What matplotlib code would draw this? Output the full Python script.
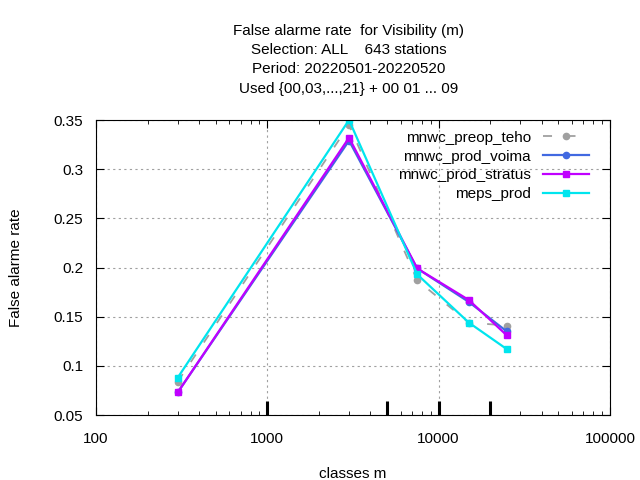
import numpy as np
import matplotlib
matplotlib.use("Agg")
import matplotlib.pyplot as plt
import matplotlib.transforms as mtransforms

plt.rcParams['font.family'] = ['Liberation Sans', 'DejaVu Sans']

# class centres (m) and false alarm rates
classes = [300, 3000, 7500, 15000, 25000]
preop_teho = [0.084, 0.345, 0.187, 0.144, 0.141]
prod_voima = [0.073, 0.329, 0.199, 0.165, 0.135]
prod_stratus = [0.073, 0.332, 0.199, 0.167, 0.131]
meps_prod = [0.088, 0.350, 0.193, 0.144, 0.117]

class_limits = [1000, 5000, 10000, 20000]

title = ("False alarme rate  for Visibility (m)\n"
         "Selection: ALL    643 stations\n"
         "Period: 20220501-20220520\n"
         "Used {00,03,...,21} + 00 01 ... 09")

FS = 11

fig = plt.figure(figsize=(6.4, 4.8), dpi=100)
ax = fig.add_axes([0.15, 0.1354, 0.803, 0.6146])

ax.plot(classes, preop_teho, color='#a0a0a0', lw=1.3, dashes=(5, 8),
        marker='o', ms=4.5, label='mnwc_preop_teho')
ax.plot(classes, prod_voima, color='#4169e1', lw=1.6,
        marker='o', ms=4.5, label='mnwc_prod_voima')
ax.plot(classes, prod_stratus, color='#c000ff', lw=1.6,
        marker='s', ms=4.5, label='mnwc_prod_stratus')
ax.plot(classes, meps_prod, color='#00e5ee', lw=1.6,
        marker='s', ms=4.5, label='meps_prod')

ax.set_xscale('log')
ax.set_xlim(100, 100000)
ax.set_ylim(0.05, 0.35)
ax.set_xticks([100, 1000, 10000, 100000])
ax.set_xticklabels(['100', '1000', '10000', '100000'])
ax.set_yticks([0.05, 0.1, 0.15, 0.2, 0.25, 0.3, 0.35])
ax.set_yticklabels(['0.05', '0.1', '0.15', '0.2', '0.25', '0.3', '0.35'])
ax.tick_params(which='both', direction='in', top=True, right=True,
               labelsize=FS)
ax.tick_params(axis='x', pad=12)
ax.tick_params(axis='y', pad=9)
ax.tick_params(which='major', length=6)
ax.tick_params(which='minor', length=3)
ax.grid(True, which='major', color='#a0a0a0', ls=(0, (2, 3)), lw=0.8)

# class boundaries as bold ticks on the bottom axis
trans = mtransforms.blended_transform_factory(ax.transData, ax.transAxes)
for xl in class_limits:
    ax.plot([xl, xl], [0, 0.047], color='black', lw=2.2, transform=trans,
            solid_capstyle='butt', clip_on=False)

ax.set_xlabel('classes m', fontsize=FS, labelpad=15)
ax.set_ylabel('False alarme rate', fontsize=FS, labelpad=22)
fig.text(0.545, 0.95, title, ha='center', va='top', fontsize=FS,
         linespacing=1.47)

ax.legend(loc='upper right', bbox_to_anchor=(0.98, 1.0), frameon=False,
          markerfirst=False, handlelength=3.0, labelspacing=0.32,
          fontsize=FS, borderaxespad=0.3)

fig.savefig('out.png', dpi=100)
